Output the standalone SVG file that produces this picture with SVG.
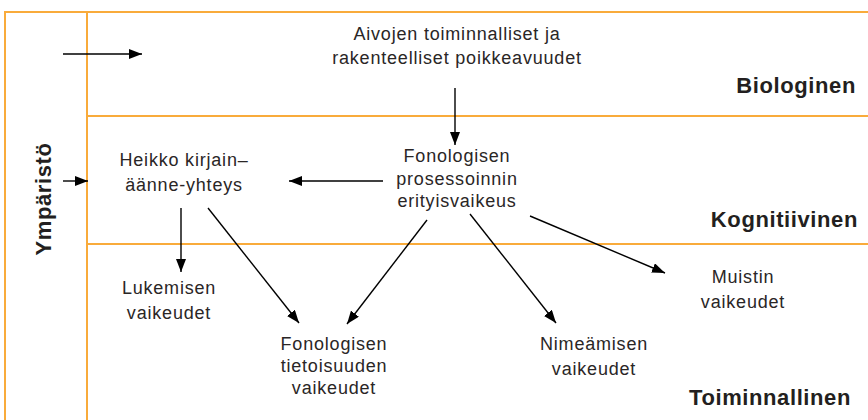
<svg xmlns="http://www.w3.org/2000/svg" width="868" height="420" viewBox="0 0 868 420">
<defs>
<marker id="ah" markerUnits="userSpaceOnUse" markerWidth="14" markerHeight="10" refX="13" refY="5" orient="auto">
<path d="M0,0 L13,5 L0,10 Z" fill="#000"/>
</marker>
<style>
.t{font-family:"Liberation Sans",Arial,sans-serif;font-size:18px;fill:#2a2626;text-anchor:middle;letter-spacing:0.8px}
.b{font-family:"Liberation Sans",Arial,sans-serif;font-size:22px;font-weight:bold;fill:#231f20;letter-spacing:0.6px}
.c{stroke:#000;stroke-width:1.4;fill:none;marker-end:url(#ah)}
.g{stroke:#f9ab3b;stroke-width:2;fill:none}
</style>
</defs>
<rect width="868" height="420" fill="#fff"/>
<g id="background">
<rect x="5" y="12" width="880" height="420" fill="#fddfb2" class="g"/>
<line x1="87" y1="12" x2="87" y2="430" class="g"/>
<line x1="87" y1="116" x2="870" y2="116" class="g"/>
<line x1="87" y1="244" x2="870" y2="244" class="g"/>
</g>
<g id="layer-labels">
<text class="b" x="856" y="93" text-anchor="end">Biologinen</text>
<text class="b" x="858" y="227" text-anchor="end">Kognitiivinen</text>
<text class="b" x="851" y="405" text-anchor="end">Toiminnallinen</text>
<text class="b" transform="translate(51,199) rotate(-90)" text-anchor="middle">Ympäristö</text>
</g>
<g id="n-aivojen">
<text class="t" x="457" y="40">Aivojen toiminnalliset ja</text>
<text class="t" x="457" y="64">rakenteelliset poikkeavuudet</text>
</g>
<g id="n-fonologisen-prosessoinnin">
<text class="t" x="457" y="162">Fonologisen</text>
<text class="t" x="457" y="185">prosessoinnin</text>
<text class="t" x="457" y="207">erityisvaikeus</text>
</g>
<g id="n-heikko">
<text class="t" x="184" y="166">Heikko kirjain–</text>
<text class="t" x="184" y="191">äänne-yhteys</text>
</g>
<g id="n-lukemisen">
<text class="t" x="169" y="294">Lukemisen</text>
<text class="t" x="169" y="319">vaikeudet</text>
</g>
<g id="n-tietoisuuden">
<text class="t" x="334" y="350">Fonologisen</text>
<text class="t" x="334" y="372">tietoisuuden</text>
<text class="t" x="334" y="394">vaikeudet</text>
</g>
<g id="n-nimeamisen">
<text class="t" x="594" y="350">Nimeämisen</text>
<text class="t" x="594" y="375">vaikeudet</text>
</g>
<g id="n-muistin">
<text class="t" x="743" y="283">Muistin</text>
<text class="t" x="743" y="308">vaikeudet</text>
</g>
<g id="connectors">
<line class="c" x1="63" y1="54" x2="142" y2="54"/>
<line class="c" x1="63" y1="181" x2="88" y2="181"/>
<line class="c" x1="455" y1="88" x2="455" y2="145"/>
<line class="c" x1="383" y1="181" x2="289" y2="181"/>
<line class="c" x1="181" y1="208" x2="181" y2="272"/>
<line class="c" x1="208" y1="208" x2="299" y2="323"/>
<line class="c" x1="427" y1="220" x2="347" y2="324"/>
<line class="c" x1="470" y1="214" x2="556" y2="323"/>
<line class="c" x1="530" y1="216" x2="665" y2="273"/>
</g>
</svg>
